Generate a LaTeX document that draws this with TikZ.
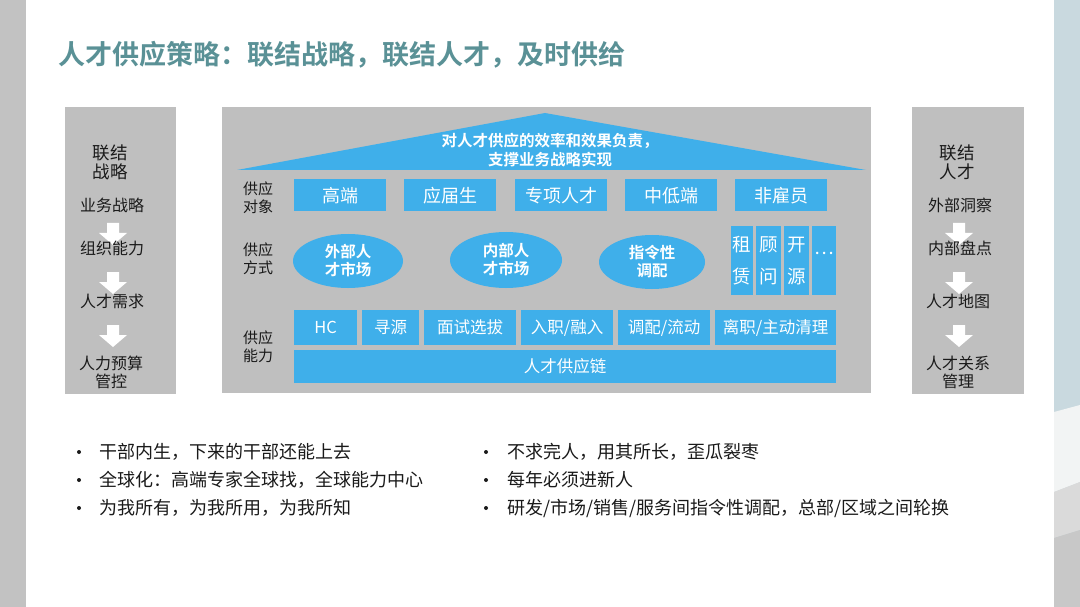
\documentclass[tikz,border=0pt]{standalone}
\usepackage{fontspec}
\setmainfont{Noto Sans CJK SC}
\newfontfamily\cjkb{Noto Sans CJK SC Bold}
\usetikzlibrary{shapes.geometric}
\definecolor{sky}{HTML}{3FAFEA}
\definecolor{panel}{HTML}{BFBFBF}
\definecolor{ttl}{HTML}{5A9196}
\definecolor{ink}{HTML}{1A1A1A}
\definecolor{stripA}{HTML}{C9D9DF}
\definecolor{stripB}{HTML}{F2F4F4}
\definecolor{stripC}{HTML}{DADADA}
\definecolor{stripD}{HTML}{C8C8C8}
\tikzset{
  panelbox/.style={fill=panel,draw=none},
  bluebox/.style={fill=sky,draw=none,text=white,font=\fontsize{16.5}{18}\selectfont,inner sep=0pt},
  ellbox/.style={ellipse,fill=sky,draw=none,text=white,font=\cjkb\fontsize{15.5}{18}\selectfont,align=center,inner sep=0pt},
  lbl/.style={text=ink,font=\fontsize{15}{18}\selectfont,align=center,inner sep=0pt},
  side/.style={text=ink,font=\fontsize{16}{19}\selectfont,align=center,inner sep=0pt},
  sidehead/.style={text=ink,font=\fontsize{17.5}{20}\selectfont,align=center,inner sep=0pt},
  bul/.style={text=ink,font=\fontsize{18}{20}\selectfont,anchor=west,inner sep=0pt},
}
\newcommand{\downarrowshape}[2]{% center x, top y
  \fill[white] (#1-6,#2) -- (#1+6,#2) -- (#1+6,#2+10) -- (#1+14,#2+10) -- (#1,#2+22) -- (#1-14,#2+10) -- (#1-6,#2+10) -- cycle;}
\begin{document}
\begin{tikzpicture}[x=1pt,y=-1pt]
\useasboundingbox (0,0) rectangle (1080,607);
\fill[white] (0,0) rectangle (1080,607);
% side strips
\fill[panel!95!white] (0,0) rectangle (26,607);
\fill[stripA] (1054,0) rectangle (1080,607);
\fill[stripB] (1054,412) -- (1080,405) -- (1080,482) -- (1054,492) -- cycle;
\fill[stripC] (1054,492) -- (1080,482) -- (1080,530) -- (1054,538) -- cycle;
\fill[stripD] (1054,538) -- (1080,530) -- (1080,607) -- (1054,607) -- cycle;
% title
\node[anchor=west,text=ttl,font=\cjkb\fontsize{27}{30}\selectfont,inner sep=0pt] (title) at (58,55) {人才供应策略：联结战略，联结人才，及时供给};
% panels
\fill[panelbox] (65,107) rectangle (176,394);
\fill[panelbox] (222,107) rectangle (871,393);
\fill[panelbox] (912,107) rectangle (1024,394);
% left panel
\node[sidehead] (lh) at (110,162) {联结\\[-1pt]战略};
\node[side] (l1) at (112,205) {业务战略};
\downarrowshape{113}{223}
\node[side] (l2) at (112,248) {组织能力};
\downarrowshape{113}{272}
\node[side] (l3) at (112,301) {人才需求};
\downarrowshape{113}{325}
\node[side] (l4) at (111,372) {人力预算\\[-1pt]管控};
% right panel
\node[sidehead] (rh) at (957,162) {联结\\[-1pt]人才};
\node[side] (r1) at (960,205) {外部洞察};
\downarrowshape{959}{223}
\node[side] (r2) at (960,248) {内部盘点};
\downarrowshape{959}{272}
\node[side] (r3) at (958,301) {人才地图};
\downarrowshape{959}{325}
\node[side] (r4) at (958,372) {人才关系\\[-1pt]管理};
% roof
\fill[sky] (545,113) -- (866,170) -- (237,170) -- cycle;
\node[text=white,font=\cjkb\fontsize{15.5}{19}\selectfont,align=center,inner sep=0pt] (roof) at (550,150) {对人才供应的效率和效果负责，\\支撑业务战略实现};
% row 1
\node[lbl] (lab1) at (258,198) {供应\\对象};
\foreach \x/\t/\n in {294/高端/a1,404/应届生/a2,515/专项人才/a3,625/中低端/a4,735/非雇员/a5}{
  \node[bluebox,minimum width=92pt,minimum height=32pt,anchor=north west,font=\fontsize{18}{20}\selectfont] (\n) at (\x,179) {\raisebox{-2pt}{\t}};
}
% row 2
\node[lbl] (lab2) at (258,259) {供应\\方式};
\node[ellbox,minimum width=110pt,minimum height=54pt] (e1) at (348,261) {外部人\\才市场};
\node[ellbox,minimum width=112pt,minimum height=56pt] (e2) at (506,260) {内部人\\才市场};
\node[ellbox,minimum width=106pt,minimum height=54pt] (e3) at (652,262) {指令性\\调配};
\foreach \x/\w/\t/\n in {731/22/{租\\[12pt]赁}/c1,756/25/{顾\\[12pt]问}/c2,784/25/{开\\[12pt]源}/c3,812/24/{\raisebox{14pt}{…}}/c4}{
  \node[bluebox,minimum width=\w pt,minimum height=69pt,anchor=north west,align=center,font=\fontsize{18.5}{20}\selectfont] (\n) at (\x,226) {\t};
}
% row 3
\node[lbl] (lab3) at (258,347) {供应\\能力};
\foreach \x/\w/\t/\n in {294/63/HC/b1,362/57/寻源/b2,424/92/面试选拔/b3,521/92/{入职/融入}/b4,618/92/{调配/流动}/b5,715/121/{离职/主动清理}/b6}{
  \node[bluebox,minimum width=\w pt,minimum height=35pt,anchor=north west] (\n) at (\x,310) {\t};
}
\node[bluebox,minimum width=542pt,minimum height=33pt,anchor=north west] (chain) at (294,350) {人才供应链};
% bullets
\foreach \y/\t/\n in {452/干部内生，下来的干部还能上去/p1,480/全球化：高端专家全球找，全球能力中心/p2,508/为我所有，为我所用，为我所知/p3}{
  \fill[ink] (79,\y) circle (2pt);
  \node[bul] (\n) at (99,\y) {\t};
}
\foreach \y/\t/\n in {452/不求完人，用其所长，歪瓜裂枣/q1,480/每年必须进新人/q2,508/{研发/市场/销售/服务间指令性调配，总部/区域之间轮换}/q3}{
  \fill[ink] (486,\y) circle (2pt);
  \node[bul] (\n) at (507,\y) {\t};
}
\end{tikzpicture}
\end{document}
